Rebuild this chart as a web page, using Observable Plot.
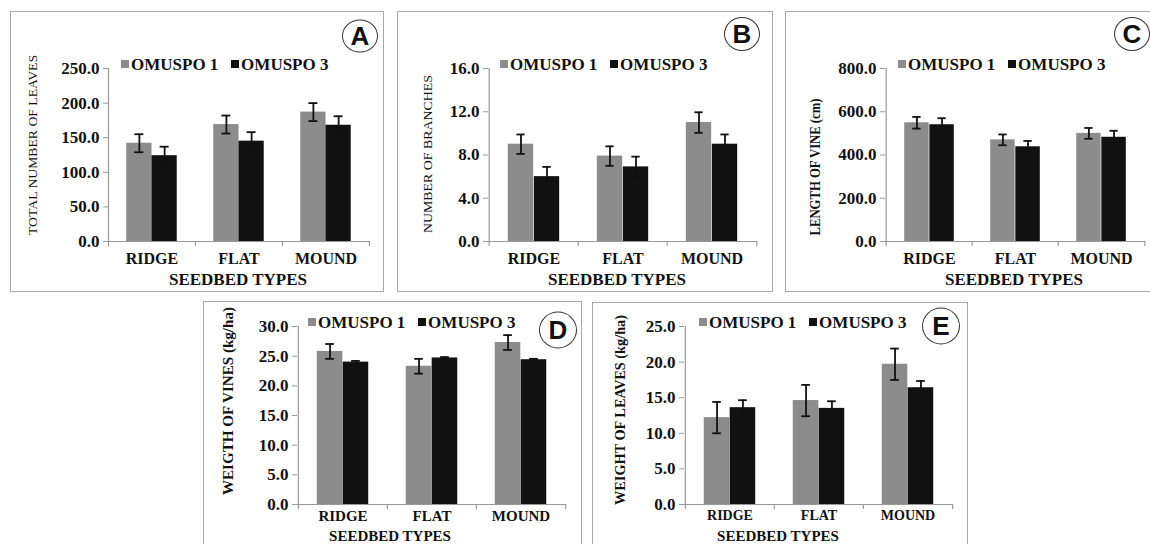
<!DOCTYPE html>
<html>
<head>
<meta charset="utf-8">
<script src="https://cdn.jsdelivr.net/npm/d3@7"></script>
<script src="https://cdn.jsdelivr.net/npm/@observablehq/plot@0.6"></script>
<style>
  html, body { margin: 0; padding: 0; background: #fff; }
  #root { position: relative; width: 1150px; height: 544px; overflow: hidden; background: #fff;
          font-family: "Liberation Serif", "Times New Roman", Times, Tinos, "DejaVu Serif", serif; color: #111; }
  .box { position: absolute; border: 1.3px solid #a8a8a8; box-sizing: border-box; }
  .plot { position: absolute; }
  .plot text { font-family: "Liberation Serif", "Times New Roman", Times, Tinos, "DejaVu Serif", serif; }
  .legend { position: absolute; font-weight: bold; font-size: 17px; white-space: nowrap; line-height: 1; }
  .sw { display: inline-block; width: 8px; height: 8px; margin-right: 2px; vertical-align: 2px; }
  .ytitle { position: absolute; white-space: nowrap; line-height: 1; }
  .xtitle { position: absolute; white-space: nowrap; font-weight: bold; line-height: 1; transform: translate(-50%, -50%); }
  .circ { position: absolute; border: 1.3px solid #333; border-radius: 50%; box-sizing: border-box;
          font-family: "Liberation Sans", Arial, sans-serif; font-weight: bold; font-size: 26px;
          display: flex; align-items: center; justify-content: center; transform: translate(-50%, -50%); background: #fff; }
</style>
</head>
<body>
<div id="root"></div>
<script>
// ---- data ----
const categories = ["RIDGE", "FLAT", "MOUND"];
const seriesNames = ["OMUSPO 1", "OMUSPO 3"];
const xTitle = "SEEDBED TYPES";

const leavesO1 = [142, 169, 187];
const leavesO3 = [124, 145, 168];
const leavesErrO1 = [13, 13, 13];
const leavesErrO3 = [13, 13, 13];
const leavesTicks = [0, 50, 100, 150, 200, 250];

const branchesO1 = [9.0, 7.9, 11.0];
const branchesO3 = [6.0, 6.9, 9.0];
const branchesErrO1 = [0.9, 0.9, 0.95];
const branchesErrO3 = [0.9, 0.95, 0.9];
const branchesTicks = [0, 4, 8, 12, 16];

const vineLenO1 = [549, 470, 500];
const vineLenO3 = [540, 438, 482];
const vineLenErrO1 = [27, 25, 25];
const vineLenErrO3 = [30, 27, 30];
const vineLenTicks = [0, 200, 400, 600, 800];

const vineWtO1 = [25.8, 23.3, 27.3];
const vineWtO3 = [24.0, 24.7, 24.4];
const vineWtErrO1 = [1.25, 1.25, 1.25];
const vineWtErrO3 = [0.2, 0.15, 0.15];
const vineWtTicks = [0, 5, 10, 15, 20, 25, 30];

const leafWtO1 = [12.2, 14.6, 19.7];
const leafWtO3 = [13.6, 13.5, 16.4];
const leafWtErrO1 = [2.2, 2.2, 2.2];
const leafWtErrO3 = [1.05, 1.0, 0.95];
const leafWtTicks = [0, 5, 10, 15, 20, 25];

const colors = ["#8c8c8c", "#111111"];

// ---- layout ----
const panels = [
  { letter: "A", box: [10, 11, 374, 281], mL: 98, mR: 15, mT: 57, mB: 51,
    o1: leavesO1, o3: leavesO3, e1: leavesErrO1, e3: leavesErrO3, ticks: leavesTicks,
    ytitle: "TOTAL NUMBER OF LEAVES", yt: { x: 33, y: 145, len: 180, size: 12, bold: false },
    legend: [121, 56], circle: [360, 36, 36, 33], xt: [238, 279, 17], catPad: 11, catSize: 16 },
  { letter: "B", box: [397, 11, 376, 281], mL: 91, mR: 16, mT: 57, mB: 51,
    o1: branchesO1, o3: branchesO3, e1: branchesErrO1, e3: branchesErrO3, ticks: branchesTicks,
    ytitle: "NUMBER OF  BRANCHES", yt: { x: 427, y: 154, len: 158, size: 13, bold: false },
    legend: [500, 56], circle: [742, 34, 36, 34], xt: [617, 279, 17], catPad: 11, catSize: 16 },
  { letter: "C", box: [785, 11, 380, 281], mL: 100, mR: 20, mT: 57, mB: 51,
    o1: vineLenO1, o3: vineLenO3, e1: vineLenErrO1, e3: vineLenErrO3, ticks: vineLenTicks,
    ytitle: "LENGTH  OF VINE (cm)", yt: { x: 815, y: 167, len: 137, size: 15, bold: true },
    legend: [898, 56], circle: [1132, 34, 36, 34], xt: [1014, 279, 17], catPad: 11, catSize: 16 },
  { letter: "D", box: [203, 301, 379, 260], mL: 94, mR: 17, mT: 25, mB: 57,
    o1: vineWtO1, o3: vineWtO3, e1: vineWtErrO1, e3: vineWtErrO3, ticks: vineWtTicks,
    ytitle: "WEIGTH OF VINES (kg/ha)", yt: { x: 228, y: 401, len: 188, size: 15, bold: true },
    legend: [308, 314], circle: [558, 330, 38, 37], xt: [390, 536, 15], catPad: 6, catSize: 15 },
  { letter: "E", box: [592, 302, 376, 260], mL: 92, mR: 16, mT: 24, mB: 58,
    o1: leafWtO1, o3: leafWtO3, e1: leafWtErrO1, e3: leafWtErrO3, ticks: leafWtTicks,
    ytitle: "WEIGHT OF LEAVES (kg/ha)", yt: { x: 620, y: 410, len: 190, size: 15, bold: true },
    legend: [699, 314], circle: [941, 326, 38, 37], xt: [778, 536, 15], catPad: 6, catSize: 14 }
];

const root = document.getElementById("root");
const serif = '"Liberation Serif", "Times New Roman", Times, Tinos, "DejaVu Serif", serif';

function el(tag, cls, style, html) {
  const e = document.createElement(tag);
  if (cls) e.className = cls;
  Object.assign(e.style, style || {});
  if (html != null) e.innerHTML = html;
  root.appendChild(e);
  return e;
}

for (const p of panels) {
  const [bx, by, bw_, bh] = p.box;
  el("div", "box", { left: bx + "px", top: by + "px", width: bw_ + "px", height: bh + "px" });

  const pw = bw_ - p.mL - p.mR;
  const bw = pw / categories.length;
  const ymax = p.ticks[p.ticks.length - 1];

  const rows1 = categories.map((c, i) => ({ cat: c, v: p.o1[i], e: p.e1[i] }));
  const rows3 = categories.map((c, i) => ({ cat: c, v: p.o3[i], e: p.e3[i] }));
  const cap = 4.5;

  const chart = Plot.plot({
    width: bw_, height: bh,
    marginLeft: p.mL, marginRight: p.mR, marginTop: p.mT, marginBottom: p.mB,
    style: { fontFamily: serif, fontWeight: "bold", color: "#111",
             background: "transparent", overflow: "visible" },
    x: { domain: categories, padding: 0, label: null },
    y: { domain: [0, ymax], label: null },
    marks: [
      Plot.axisY({ ticks: p.ticks, tickFormat: d => d.toFixed(1), tickSize: 5, tickPadding: 4,
                   stroke: "#999", fontSize: 17, fontWeight: "bold", fontFamily: serif, label: null }),
      Plot.axisX({ tickSize: 0, tickPadding: p.catPad, fontSize: p.catSize, fontWeight: "bold", fontFamily: serif, label: null }),
      Plot.barY(rows1, { x: "cat", y: "v", fill: colors[0], insetLeft: bw * 0.21, insetRight: bw * 0.5 }),
      Plot.barY(rows3, { x: "cat", y: "v", fill: colors[1], insetLeft: bw * 0.5, insetRight: bw * 0.21 }),
      // error bars
      Plot.ruleX(rows1, { x: "cat", y1: d => d.v - d.e, y2: d => d.v + d.e, dx: -bw * 0.145, stroke: "#111", strokeWidth: 1.8 }),
      Plot.ruleX(rows3, { x: "cat", y1: d => d.v - d.e, y2: d => d.v + d.e, dx: bw * 0.145, stroke: "#111", strokeWidth: 1.8 }),
      Plot.tickY(rows1, { x: "cat", y: d => d.v + d.e, insetLeft: bw * 0.355 - cap, insetRight: bw * 0.645 - cap, stroke: "#111", strokeWidth: 1.8 }),
      Plot.tickY(rows1, { x: "cat", y: d => d.v - d.e, insetLeft: bw * 0.355 - cap, insetRight: bw * 0.645 - cap, stroke: "#111", strokeWidth: 1.8 }),
      Plot.tickY(rows3, { x: "cat", y: d => d.v + d.e, insetLeft: bw * 0.645 - cap, insetRight: bw * 0.355 - cap, stroke: "#111", strokeWidth: 1.8 }),
      Plot.tickY(rows3, { x: "cat", y: d => d.v - d.e, insetLeft: bw * 0.645 - cap, insetRight: bw * 0.355 - cap, stroke: "#111", strokeWidth: 1.8 }),
      // axes lines
      Plot.ruleY([0], { stroke: "#999", strokeWidth: 1.2 }),
      Plot.ruleX([categories[0]], { x: d => d, dx: -bw / 2, y1: 0, y2: ymax, stroke: "#999", strokeWidth: 1.2 }),
      // category boundary ticks
      Plot.ruleX(categories, { x: d => d, dx: -bw / 2, y1: 0, y2: 0, insetBottom: -5, stroke: "#999", strokeWidth: 1.2 }),
      Plot.ruleX([categories[categories.length - 1]], { x: d => d, dx: bw / 2, y1: 0, y2: 0, insetBottom: -5, stroke: "#999", strokeWidth: 1.2 })
    ]
  });
  chart.classList.add("plot");
  chart.style.left = bx + "px";
  chart.style.top = by + "px";
  root.appendChild(chart);

  // legend
  el("div", "legend", { left: p.legend[0] + "px", top: p.legend[1] + "px" },
    `<span class="sw" style="background:${colors[0]}"></span>${seriesNames[0]}&nbsp;&nbsp;&nbsp;<span class="sw" style="background:${colors[1]}"></span>${seriesNames[1]}`);

  // y title
  const yt = el("div", "ytitle", {
    left: p.yt.x + "px", top: p.yt.y + "px",
    fontSize: p.yt.size + "px", fontWeight: p.yt.bold ? "bold" : "normal"
  }, p.ytitle);
  const natural = yt.getBoundingClientRect().width;
  const sx = p.yt.len / natural;
  yt.style.transform = `translate(-50%, -50%) rotate(-90deg) scaleX(${sx})`;

  // x title
  el("div", "xtitle", { left: p.xt[0] + "px", top: p.xt[1] + "px", fontSize: p.xt[2] + "px" }, xTitle);

  // circled letter
  el("div", "circ", { left: p.circle[0] + "px", top: p.circle[1] + "px", width: p.circle[2] + "px", height: p.circle[3] + "px" }, p.letter);
}
</script>
</body>
</html>
